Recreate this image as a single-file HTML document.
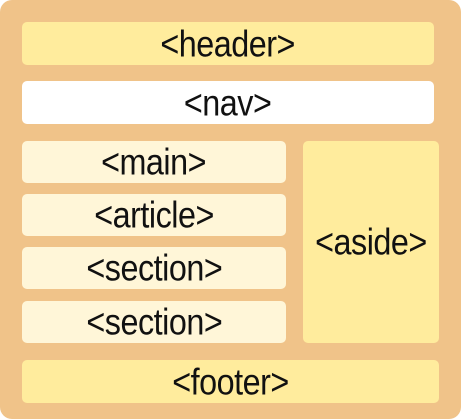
<!DOCTYPE html>
<html><head><style>
body{margin:0;width:461px;height:419px;overflow:hidden;background:#fff}
.o{position:absolute;left:0;top:0;width:461px;height:419px;background:#F0C389;border-radius:12px}
.b{position:absolute;border-radius:5px;display:flex;align-items:center;justify-content:center;font-family:"Liberation Sans",sans-serif;font-size:33px;color:#111;letter-spacing:-0.5px}
.b span{display:inline-block;transform:scale(0.98,1.12)}
.y{background:#FFEC9D}.w{background:#fff}.l{background:#FFF6D8}
</style></head><body>
<div class="o"></div>
<div class="b y" style="left:22px;top:22px;width:412px;height:43px"><span>&lt;header&gt;</span></div>
<div class="b w" style="left:22px;top:81px;width:412px;height:43px"><span>&lt;nav&gt;</span></div>
<div class="b l" style="left:22px;top:141px;width:264px;height:42px"><span>&lt;main&gt;</span></div>
<div class="b l" style="left:22px;top:194px;width:264px;height:42px"><span>&lt;article&gt;</span></div>
<div class="b l" style="left:22px;top:247px;width:264px;height:42px"><span>&lt;section&gt;</span></div>
<div class="b l" style="left:22px;top:301px;width:264px;height:42px"><span>&lt;section&gt;</span></div>
<div class="b y" style="left:303px;top:141px;width:136px;height:202px"><span>&lt;aside&gt;</span></div>
<div class="b y" style="left:22px;top:360px;width:417px;height:43px"><span>&lt;footer&gt;</span></div>
</body></html>
